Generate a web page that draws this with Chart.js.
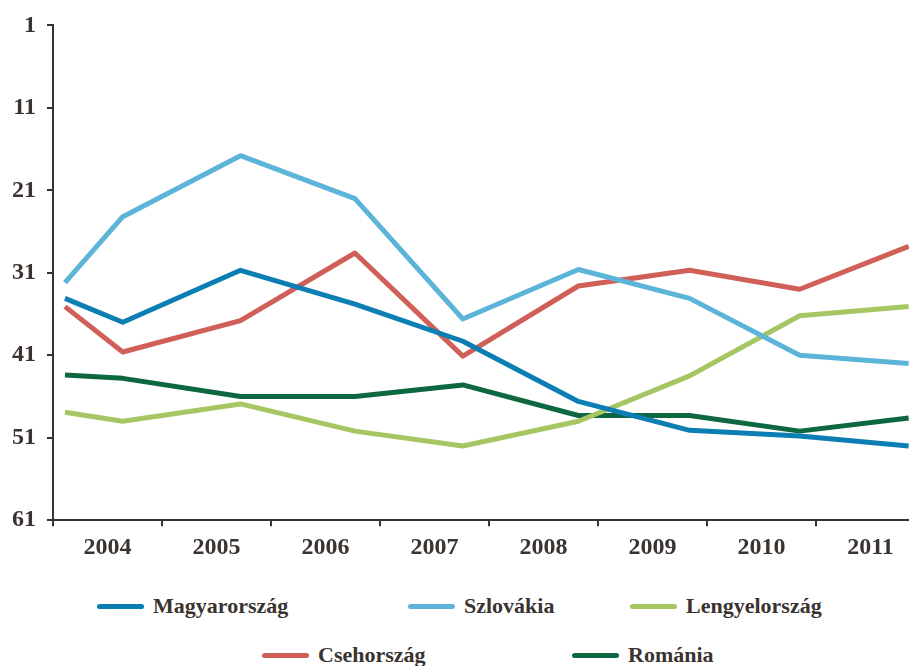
<!DOCTYPE html>
<html>
<head>
<meta charset="utf-8">
<script src="https://cdn.jsdelivr.net/npm/chart.js@4.4.1/dist/chart.umd.min.js"></script>
<style>
  html, body { margin: 0; padding: 0; background: #fff; overflow: hidden; }
  #wrap { position: relative; width: 935px; height: 666px; }
  #chartBox { position: absolute; left: 0; top: 0; width: 935px; height: 575px; }
  .legItem { position: absolute; display: flex; align-items: center; white-space: nowrap;
    font-family: "Liberation Serif", "DejaVu Serif", serif; font-weight: bold; font-size: 22px; color: #3a3330; }
  .legLine { display: inline-block; width: 47px; height: 5px; border-radius: 3px; margin-right: 9px; }
</style>
</head>
<body>
<div id="wrap">
  <div id="chartBox"><canvas id="myChart"></canvas></div>
  <div id="legend"></div>
</div>
<script>
// categories shown on the x axis
var years = ['2004', '2005', '2006', '2007', '2008', '2009', '2010', '2011'];
// where the points sit along the year axis
var pointYears = [2003.61, 2004.14, 2005.22, 2006.27, 2007.26, 2008.32, 2009.34, 2010.35, 2011.35];

var seriesNames = ['Magyarország', 'Szlovákia', 'Lengyelország', 'Csehország', 'Románia'];
var magyar  = [34.1, 37.0, 30.7, 34.8, 39.3, 46.6, 50.1, 50.8, 52.0];
var szlovak = [32.2, 24.2, 16.8, 22.0, 36.6, 30.6, 34.1, 41.0, 42.0];
var lengyel = [47.9, 49.0, 46.9, 50.2, 52.0, 49.0, 43.5, 36.2, 35.1];
var cseh    = [35.1, 40.6, 36.8, 28.6, 41.1, 32.6, 30.7, 33.0, 27.8];
var roman   = [43.4, 43.8, 46.0, 46.0, 44.6, 48.3, 48.3, 50.2, 48.6];

var yTicks = [1, 11, 21, 31, 41, 51, 61];

var colors = ['#0b7fb4', '#5cb5d8', '#a5c662', '#cf5f57', '#0d6842'];
var allSeries = [magyar, szlovak, lengyel, cseh, roman];

function toPoints(values) {
  return values.map(function(v, i) { return { x: pointYears[i], y: v }; });
}

var datasets = allSeries.map(function(values, i) {
  return {
    label: seriesNames[i],
    data: toPoints(values),
    xAxisID: 'xData',
    borderColor: colors[i],
    backgroundColor: colors[i],
    borderWidth: 5,
    pointRadius: 0,
    tension: 0,
    borderJoinStyle: 'round',
    borderCapStyle: 'butt'
  };
});

var tickFont = { family: '"Liberation Serif", "DejaVu Serif", serif', size: 24, weight: 'bold' };

var config = {
  type: 'line',
  data: { labels: years, datasets: datasets },
  options: {
    responsive: true,
    maintainAspectRatio: false,
    animation: false,
    layout: { padding: { left: 1, right: 10, top: 19, bottom: 6 } },
    plugins: { legend: { display: false }, tooltip: { enabled: false } },
    scales: {
      x: {
        type: 'category',
        offset: true,
        grid: { display: true, offset: true, drawOnChartArea: false, tickLength: 6, color: '#333', lineWidth: 2 },
        border: { display: true, color: '#333', width: 2 },
        ticks: { color: '#3a3330', font: tickFont, padding: 7, maxRotation: 0, autoSkip: false }
      },
      xData: {
        type: 'linear',
        display: false,
        min: 2003.5,
        max: 2011.5
      },
      y: {
        reverse: true,
        min: 1,
        max: 61,
        afterBuildTicks: function(axis) {
          axis.ticks = yTicks.map(function(v) { return { value: v }; });
        },
        grid: { display: true, drawOnChartArea: false, tickLength: 6, color: '#333', lineWidth: 2 },
        border: { display: true, color: '#333', width: 2 },
        ticks: { color: '#3a3330', font: tickFont, padding: 11 }
      }
    }
  }
};

// legend laid out like the original (two rows)
var legendSlots = [[97, 606], [408, 606], [630, 606], [262, 655], [572, 655]];
function buildLegend() {
  var box = document.getElementById('legend');
  seriesNames.forEach(function(name, i) {
    var item = document.createElement('div');
    item.className = 'legItem';
    item.style.left = legendSlots[i][0] + 'px';
    item.style.top = (legendSlots[i][1] - 14) + 'px';
    item.style.height = '28px';
    var line = document.createElement('span');
    line.className = 'legLine';
    line.style.background = colors[i];
    item.appendChild(line);
    item.appendChild(document.createTextNode(name));
    box.appendChild(item);
  });
}

buildLegend();
var ctx = document.getElementById('myChart').getContext('2d');
window.lineChart = new Chart(ctx, config);
</script>
</body>
</html>
